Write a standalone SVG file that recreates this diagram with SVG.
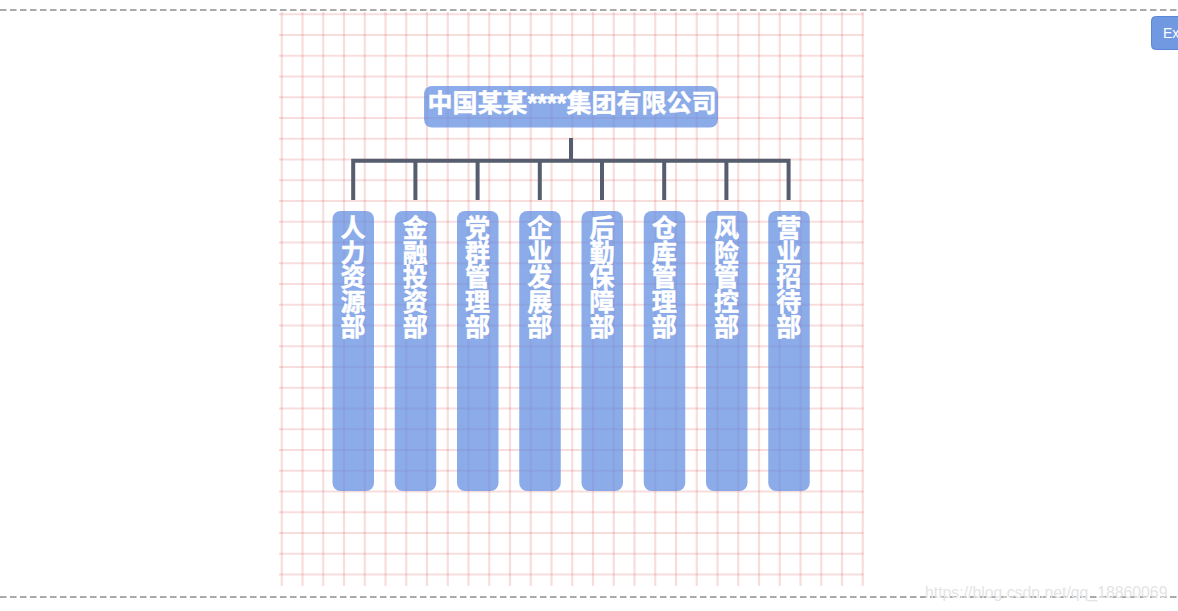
<svg xmlns="http://www.w3.org/2000/svg" width="1178" height="611" viewBox="0 0 1178 611">
<style>
.border{stroke:#aaa;stroke-width:2;stroke-dasharray:6.5 3.5;fill:none}
.grid line{stroke:#e06060;stroke-opacity:.21;stroke-width:2.2}
.box{fill:#5f8be0;fill-opacity:.72}
.label{font-family:"Liberation Sans","Noto Sans CJK SC",sans-serif;font-weight:700;fill:#fff;font-size:25px;stroke:#fff;stroke-width:.5}
.v{writing-mode:vertical-rl;text-anchor:start;letter-spacing:-.3px}
.conn{stroke:#555d6e;stroke-width:4;fill:none}
</style>
<rect width="1178" height="611" fill="#fff"/>
<g id="borders"><line class="border" x1="0" y1="10" x2="1178" y2="10"/><line class="border" x1="0" y1="597" x2="1178" y2="597"/></g>
<g class="grid" id="grid">
<line x1="281.75" y1="12" x2="281.75" y2="586"/><line x1="302.5" y1="12" x2="302.5" y2="586"/><line x1="323.25" y1="12" x2="323.25" y2="586"/><line x1="344" y1="12" x2="344" y2="586"/><line x1="364.75" y1="12" x2="364.75" y2="586"/><line x1="385.5" y1="12" x2="385.5" y2="586"/><line x1="406.25" y1="12" x2="406.25" y2="586"/><line x1="427" y1="12" x2="427" y2="586"/><line x1="447.75" y1="12" x2="447.75" y2="586"/><line x1="468.5" y1="12" x2="468.5" y2="586"/><line x1="489.25" y1="12" x2="489.25" y2="586"/><line x1="510" y1="12" x2="510" y2="586"/><line x1="530.75" y1="12" x2="530.75" y2="586"/><line x1="551.5" y1="12" x2="551.5" y2="586"/><line x1="572.25" y1="12" x2="572.25" y2="586"/><line x1="593" y1="12" x2="593" y2="586"/><line x1="613.75" y1="12" x2="613.75" y2="586"/><line x1="634.5" y1="12" x2="634.5" y2="586"/><line x1="655.25" y1="12" x2="655.25" y2="586"/><line x1="676" y1="12" x2="676" y2="586"/><line x1="696.75" y1="12" x2="696.75" y2="586"/><line x1="717.5" y1="12" x2="717.5" y2="586"/><line x1="738.25" y1="12" x2="738.25" y2="586"/><line x1="759" y1="12" x2="759" y2="586"/><line x1="779.75" y1="12" x2="779.75" y2="586"/><line x1="800.5" y1="12" x2="800.5" y2="586"/><line x1="821.25" y1="12" x2="821.25" y2="586"/><line x1="842" y1="12" x2="842" y2="586"/><line x1="862.75" y1="12" x2="862.75" y2="586"/>
<line x1="279" y1="14.25" x2="863.5" y2="14.25"/><line x1="279" y1="35" x2="863.5" y2="35"/><line x1="279" y1="55.75" x2="863.5" y2="55.75"/><line x1="279" y1="76.5" x2="863.5" y2="76.5"/><line x1="279" y1="97.25" x2="863.5" y2="97.25"/><line x1="279" y1="118" x2="863.5" y2="118"/><line x1="279" y1="138.75" x2="863.5" y2="138.75"/><line x1="279" y1="159.5" x2="863.5" y2="159.5"/><line x1="279" y1="180.25" x2="863.5" y2="180.25"/><line x1="279" y1="201" x2="863.5" y2="201"/><line x1="279" y1="221.75" x2="863.5" y2="221.75"/><line x1="279" y1="242.5" x2="863.5" y2="242.5"/><line x1="279" y1="263.25" x2="863.5" y2="263.25"/><line x1="279" y1="284" x2="863.5" y2="284"/><line x1="279" y1="304.75" x2="863.5" y2="304.75"/><line x1="279" y1="325.5" x2="863.5" y2="325.5"/><line x1="279" y1="346.25" x2="863.5" y2="346.25"/><line x1="279" y1="367" x2="863.5" y2="367"/><line x1="279" y1="387.75" x2="863.5" y2="387.75"/><line x1="279" y1="408.5" x2="863.5" y2="408.5"/><line x1="279" y1="429.25" x2="863.5" y2="429.25"/><line x1="279" y1="450" x2="863.5" y2="450"/><line x1="279" y1="470.75" x2="863.5" y2="470.75"/><line x1="279" y1="491.5" x2="863.5" y2="491.5"/><line x1="279" y1="512.25" x2="863.5" y2="512.25"/><line x1="279" y1="533" x2="863.5" y2="533"/><line x1="279" y1="553.75" x2="863.5" y2="553.75"/><line x1="279" y1="574.5" x2="863.5" y2="574.5"/>
</g>
<g id="connectors">
<path class="conn" d="M571 138V160.8M353.2 200V160.8H788.6V200M415.4 160.8V200M477.6 160.8V200M539.8 160.8V200M602 160.8V200M664.2 160.8V200M726.4 160.8V200"/>
</g>
<g id="root"><rect class="box" x="424" y="86" width="294" height="41.5" rx="8"/><text class="label" x="427.5" y="112">中国某某****集团有限公司</text></g>
<g id="n1"><rect class="box" x="332.5" y="211" width="41.5" height="280" rx="8"/><text class="label v" x="351" y="215">人力资源部</text></g>
<g id="n2"><rect class="box" x="394.75" y="211" width="41.5" height="280" rx="8"/><text class="label v" x="413.25" y="215">金融投资部</text></g>
<g id="n3"><rect class="box" x="457" y="211" width="41.5" height="280" rx="8"/><text class="label v" x="475.5" y="215">党群管理部</text></g>
<g id="n4"><rect class="box" x="519.25" y="211" width="41.5" height="280" rx="8"/><text class="label v" x="537.75" y="215">企业发展部</text></g>
<g id="n5"><rect class="box" x="581.5" y="211" width="41.5" height="280" rx="8"/><text class="label v" x="600" y="215">后勤保障部</text></g>
<g id="n6"><rect class="box" x="643.75" y="211" width="41.5" height="280" rx="8"/><text class="label v" x="662.25" y="215">仓库管理部</text></g>
<g id="n7"><rect class="box" x="706" y="211" width="41.5" height="280" rx="8"/><text class="label v" x="724.5" y="215">风险管控部</text></g>
<g id="n8"><rect class="box" x="768.25" y="211" width="41.5" height="280" rx="8"/><text class="label v" x="786.75" y="215">营业招待部</text></g>
<g id="export"><rect x="1151.5" y="16.5" width="40" height="33" rx="4" fill="#7099e1" stroke="#5b87d8"/><text x="1163" y="38" font-family="Liberation Sans,sans-serif" font-size="14" fill="#fff">Ex</text></g>
<text id="watermark" x="925" y="598" font-family="Liberation Sans,sans-serif" font-size="15.8" fill="#e4e4e4">https://blog.csdn.net/qq_18860069</text>
</svg>
